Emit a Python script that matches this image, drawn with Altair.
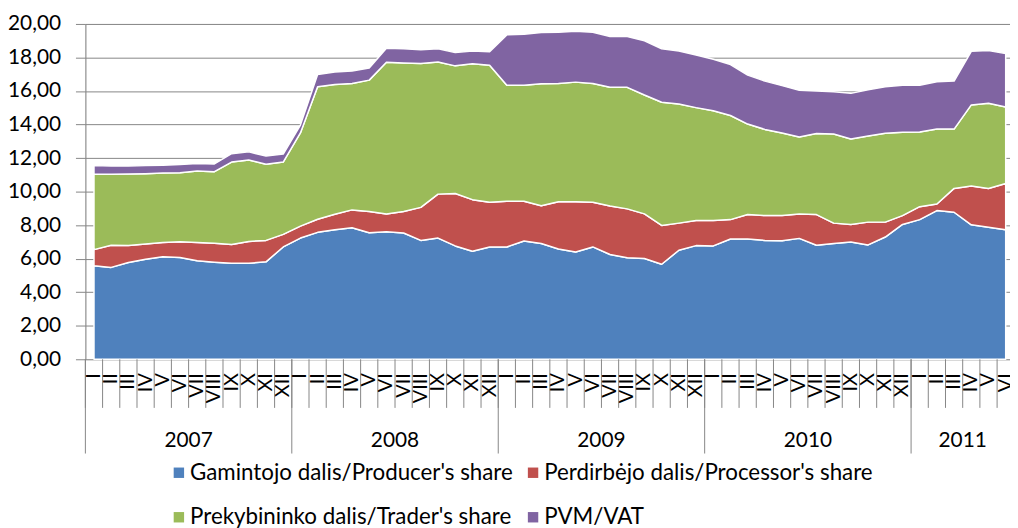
import altair as alt
import pandas as pd

roman = ["I", "II", "III", "IV", "V", "VI", "VII", "VIII", "IX", "X", "XI", "XII"]
years = ["2007", "2008", "2009", "2010", "2011"]
months_per_year = [12, 12, 12, 12, 6]

series_names = [
    "Gamintojo dalis/Producer's share",
    "Perdirbėjo dalis/Processor's share",
    "Prekybininko dalis/Trader's share",
    "PVM/VAT",
]
colors = ["#4F81BD", "#C0504D", "#9BBB59", "#8064A2"]

producer = [5.58, 5.48, 5.77, 5.97, 6.11, 6.07, 5.87, 5.79, 5.73, 5.73, 5.81, 6.70,
            7.23, 7.57, 7.72, 7.84, 7.55, 7.61, 7.53, 7.09, 7.23, 6.76, 6.44, 6.70,
            6.70, 7.05, 6.90, 6.58, 6.40, 6.70, 6.25, 6.05, 6.01, 5.67, 6.50, 6.78,
            6.76, 7.17, 7.17, 7.09, 7.07, 7.21, 6.80, 6.90, 7.00, 6.82, 7.29, 8.04,
            8.33, 8.87, 8.77, 8.02, 7.88, 7.72]
processor = [0.96, 1.32, 1.01, 0.91, 0.85, 0.94, 1.09, 1.13, 1.11, 1.30, 1.28, 0.75,
             0.71, 0.78, 0.93, 1.07, 1.26, 1.06, 1.28, 1.97, 2.62, 3.13, 3.08, 2.66,
             2.72, 2.37, 2.26, 2.82, 3.00, 2.66, 2.89, 2.92, 2.66, 2.31, 1.62, 1.50,
             1.52, 1.16, 1.46, 1.48, 1.50, 1.46, 1.83, 1.22, 1.04, 1.36, 0.89, 0.53,
             0.77, 0.39, 1.42, 2.32, 2.31, 2.76]
trader = [4.49, 4.23, 4.27, 4.19, 4.15, 4.12, 4.27, 4.27, 4.92, 4.85, 4.54, 4.31,
          5.56, 7.91, 7.74, 7.54, 7.84, 9.04, 8.86, 8.58, 7.88, 7.61, 8.10, 8.18,
          6.93, 6.93, 7.27, 7.05, 7.13, 7.09, 7.08, 7.25, 7.09, 7.35, 7.11, 6.73,
          6.54, 6.21, 5.40, 5.14, 4.93, 4.59, 4.83, 5.32, 5.10, 5.14, 5.30, 4.97,
          4.46, 4.47, 3.54, 4.83, 5.08, 4.57]
vat = [0.52, 0.50, 0.48, 0.48, 0.46, 0.48, 0.45, 0.46, 0.50, 0.49, 0.49, 0.48,
       0.47, 0.73, 0.75, 0.75, 0.72, 0.84, 0.85, 0.82, 0.79, 0.79, 0.77, 0.80,
       3.00, 3.04, 3.06, 3.06, 3.04, 3.06, 3.03, 3.03, 3.24, 3.19, 3.16, 3.14,
       3.07, 3.04, 2.92, 2.88, 2.82, 2.78, 2.54, 2.52, 2.72, 2.76, 2.78, 2.81,
       2.79, 2.82, 2.86, 3.20, 3.15, 3.18]

# ---- tables ----
rows = []
for order, (name, vals) in enumerate(zip(series_names, [producer, processor, trader, vat])):
    for i, v in enumerate(vals):
        rows.append({"idx": i, "series": name, "value": v, "order": order})
df = pd.DataFrame(rows)

n_months = sum(months_per_year)
year_starts = [sum(months_per_year[:k]) for k in range(len(years))]
month_labels = pd.DataFrame({
    "idx": list(range(n_months)),
    "m": [roman[k % 12] for k in range(n_months)],
})
bounds = pd.DataFrame({"b": [k - 0.5 for k in range(n_months)]})
year_bounds = pd.DataFrame({"b": [s - 0.5 for s in year_starts]})
year_labels = pd.DataFrame({
    "year": years,
    "c": [s - 0.5 + m / 2 for s, m in zip(year_starts, months_per_year)],
})

FONT = "Lato"
GRAY = "#868686"
W, H = 932, 338

xscale = alt.Scale(domain=[-0.5, 53.25], nice=False, zero=False)

areas = alt.Chart(df).mark_area(
    stroke="white", strokeWidth=1.5, opacity=1, strokeJoin="round"
).encode(
    x=alt.X("idx:Q", scale=xscale, axis=None),
    y=alt.Y("value:Q", stack="zero", title=None,
            scale=alt.Scale(domain=[0, 20], nice=False),
            axis=alt.Axis(values=list(range(0, 21, 2)),
                          labelExpr="replace(format(datum.value, '.2f'), '.', ',')",
                          grid=True, gridColor=GRAY, gridWidth=1,
                          domainColor=GRAY, tickColor=GRAY, tickSize=10,
                          labelPadding=15, labelFontSize=21, labelColor="black",
                          labelFont=FONT)),
    color=alt.Color("series:N",
                    scale=alt.Scale(domain=series_names, range=colors),
                    legend=alt.Legend(title=None, orient="none", legendX=83, legendY=441,
                                      columns=2, direction="horizontal",
                                      symbolType="square", symbolSize=110,
                                      symbolStrokeWidth=0, symbolOpacity=1,
                                      labelFontSize=22.5, labelFont=FONT, labelColor="black",
                                      labelOffset=0, columnPadding=9, rowPadding=22,
                                      labelLimit=400, padding=0)),
    order=alt.Order("order:Q"),
)

month_ticks = alt.Chart(bounds).mark_rule(color=GRAY, strokeWidth=1).encode(
    x=alt.X("b:Q", scale=xscale, axis=None),
    y=alt.value(H), y2=alt.value(H + 49),
)
year_ticks = alt.Chart(year_bounds).mark_rule(color=GRAY, strokeWidth=1).encode(
    x=alt.X("b:Q", scale=xscale, axis=None),
    y=alt.value(H), y2=alt.value(H + 95),
)
month_text = alt.Chart(month_labels).mark_text(
    fontSize=20, font=FONT, color="black", angle=270, align="right", baseline="middle"
).encode(
    x=alt.X("idx:Q", scale=xscale, axis=None),
    y=alt.value(H + 14),
    text="m:N",
)
year_text = alt.Chart(year_labels).mark_text(
    fontSize=21, font=FONT, color="black", baseline="middle", align="center"
).encode(
    x=alt.X("c:Q", scale=xscale, axis=None),
    y=alt.value(H + 82),
    text="year:N",
)

chart = alt.layer(areas, month_ticks, year_ticks, month_text, year_text).properties(
    width=W, height=H,
    padding={"left": 78, "top": 14, "right": 0, "bottom": 168},
    autosize=alt.AutoSizeParams(type="none"),
).configure_view(stroke=None).configure(font=FONT)

chart.save("out.html", embed_options={"renderer": "svg", "actions": False})
